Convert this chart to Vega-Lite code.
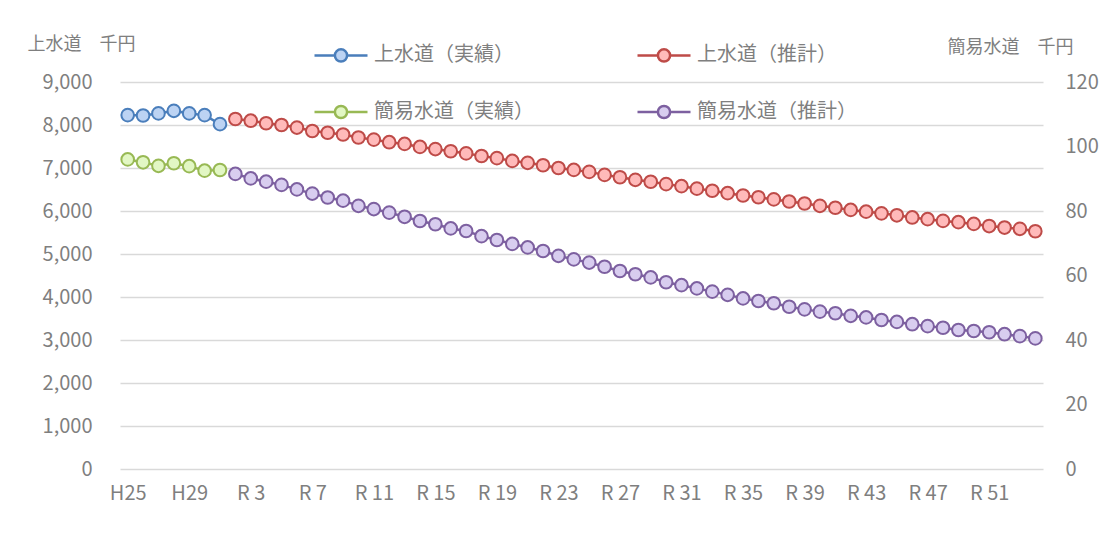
{
  "$schema": "https://vega.github.io/schema/vega-lite/v6.json",
  "width": 923,
  "height": 387,
  "autosize": {"type": "none"},
  "padding": {"left": 120, "top": 82, "right": 61, "bottom": 76},
  "background": "white",
  "config": {
    "view": {"stroke": null},
    "font": "Noto Sans CJK JP",
    "axis": {"labelFont": "Noto Sans CJK JP", "titleFont": "Noto Sans CJK JP"},
    "legend": {"labelFont": "Noto Sans CJK JP"}
  },
  "datasets": {
    "jo": [
      {"y": "H25", "s": "上水道（実績）", "v": 8230},
      {"y": "H26", "s": "上水道（実績）", "v": 8220},
      {"y": "H27", "s": "上水道（実績）", "v": 8270},
      {"y": "H28", "s": "上水道（実績）", "v": 8330},
      {"y": "H29", "s": "上水道（実績）", "v": 8270},
      {"y": "H30", "s": "上水道（実績）", "v": 8230},
      {"y": "R 1", "s": "上水道（実績）", "v": 8020},
      {"y": "R 2", "s": "上水道（推計）", "v": 8140},
      {"y": "R 3", "s": "上水道（推計）", "v": 8100},
      {"y": "R 4", "s": "上水道（推計）", "v": 8040},
      {"y": "R 5", "s": "上水道（推計）", "v": 8000},
      {"y": "R 6", "s": "上水道（推計）", "v": 7940},
      {"y": "R 7", "s": "上水道（推計）", "v": 7860},
      {"y": "R 8", "s": "上水道（推計）", "v": 7820},
      {"y": "R 9", "s": "上水道（推計）", "v": 7780},
      {"y": "R 10", "s": "上水道（推計）", "v": 7710},
      {"y": "R 11", "s": "上水道（推計）", "v": 7660},
      {"y": "R 12", "s": "上水道（推計）", "v": 7600},
      {"y": "R 13", "s": "上水道（推計）", "v": 7560},
      {"y": "R 14", "s": "上水道（推計）", "v": 7490},
      {"y": "R 15", "s": "上水道（推計）", "v": 7440},
      {"y": "R 16", "s": "上水道（推計）", "v": 7390},
      {"y": "R 17", "s": "上水道（推計）", "v": 7340},
      {"y": "R 18", "s": "上水道（推計）", "v": 7280},
      {"y": "R 19", "s": "上水道（推計）", "v": 7230},
      {"y": "R 20", "s": "上水道（推計）", "v": 7165},
      {"y": "R 21", "s": "上水道（推計）", "v": 7120},
      {"y": "R 22", "s": "上水道（推計）", "v": 7065},
      {"y": "R 23", "s": "上水道（推計）", "v": 7000},
      {"y": "R 24", "s": "上水道（推計）", "v": 6955},
      {"y": "R 25", "s": "上水道（推計）", "v": 6910},
      {"y": "R 26", "s": "上水道（推計）", "v": 6840},
      {"y": "R 27", "s": "上水道（推計）", "v": 6785},
      {"y": "R 28", "s": "上水道（推計）", "v": 6725},
      {"y": "R 29", "s": "上水道（推計）", "v": 6680},
      {"y": "R 30", "s": "上水道（推計）", "v": 6625},
      {"y": "R 31", "s": "上水道（推計）", "v": 6577},
      {"y": "R 32", "s": "上水道（推計）", "v": 6520},
      {"y": "R 33", "s": "上水道（推計）", "v": 6470},
      {"y": "R 34", "s": "上水道（推計）", "v": 6415},
      {"y": "R 35", "s": "上水道（推計）", "v": 6360},
      {"y": "R 36", "s": "上水道（推計）", "v": 6320},
      {"y": "R 37", "s": "上水道（推計）", "v": 6270},
      {"y": "R 38", "s": "上水道（推計）", "v": 6220},
      {"y": "R 39", "s": "上水道（推計）", "v": 6175},
      {"y": "R 40", "s": "上水道（推計）", "v": 6120},
      {"y": "R 41", "s": "上水道（推計）", "v": 6075},
      {"y": "R 42", "s": "上水道（推計）", "v": 6025},
      {"y": "R 43", "s": "上水道（推計）", "v": 5985},
      {"y": "R 44", "s": "上水道（推計）", "v": 5945},
      {"y": "R 45", "s": "上水道（推計）", "v": 5900},
      {"y": "R 46", "s": "上水道（推計）", "v": 5850},
      {"y": "R 47", "s": "上水道（推計）", "v": 5810},
      {"y": "R 48", "s": "上水道（推計）", "v": 5770},
      {"y": "R 49", "s": "上水道（推計）", "v": 5740},
      {"y": "R 50", "s": "上水道（推計）", "v": 5700},
      {"y": "R 51", "s": "上水道（推計）", "v": 5650},
      {"y": "R 52", "s": "上水道（推計）", "v": 5615},
      {"y": "R 53", "s": "上水道（推計）", "v": 5585},
      {"y": "R 54", "s": "上水道（推計）", "v": 5530}
    ],
    "kan": [
      {"y": "H25", "s": "簡易水道（実績）", "v": 96.0},
      {"y": "H26", "s": "簡易水道（実績）", "v": 95.1},
      {"y": "H27", "s": "簡易水道（実績）", "v": 94.0},
      {"y": "H28", "s": "簡易水道（実績）", "v": 94.8},
      {"y": "H29", "s": "簡易水道（実績）", "v": 93.9},
      {"y": "H30", "s": "簡易水道（実績）", "v": 92.5},
      {"y": "R 1", "s": "簡易水道（実績）", "v": 92.7},
      {"y": "R 2", "s": "簡易水道（推計）", "v": 91.5},
      {"y": "R 3", "s": "簡易水道（推計）", "v": 90.1},
      {"y": "R 4", "s": "簡易水道（推計）", "v": 89.1},
      {"y": "R 5", "s": "簡易水道（推計）", "v": 88.1},
      {"y": "R 6", "s": "簡易水道（推計）", "v": 86.7},
      {"y": "R 7", "s": "簡易水道（推計）", "v": 85.4},
      {"y": "R 8", "s": "簡易水道（推計）", "v": 84.2},
      {"y": "R 9", "s": "簡易水道（推計）", "v": 83.2},
      {"y": "R 10", "s": "簡易水道（推計）", "v": 81.6},
      {"y": "R 11", "s": "簡易水道（推計）", "v": 80.6},
      {"y": "R 12", "s": "簡易水道（推計）", "v": 79.5},
      {"y": "R 13", "s": "簡易水道（推計）", "v": 78.2},
      {"y": "R 14", "s": "簡易水道（推計）", "v": 76.9},
      {"y": "R 15", "s": "簡易水道（推計）", "v": 75.9},
      {"y": "R 16", "s": "簡易水道（推計）", "v": 74.6},
      {"y": "R 17", "s": "簡易水道（推計）", "v": 73.8},
      {"y": "R 18", "s": "簡易水道（推計）", "v": 72.2},
      {"y": "R 19", "s": "簡易水道（推計）", "v": 71.0},
      {"y": "R 20", "s": "簡易水道（推計）", "v": 69.8},
      {"y": "R 21", "s": "簡易水道（推計）", "v": 68.7},
      {"y": "R 22", "s": "簡易水道（推計）", "v": 67.6},
      {"y": "R 23", "s": "簡易水道（推計）", "v": 66.1},
      {"y": "R 24", "s": "簡易水道（推計）", "v": 65.0},
      {"y": "R 25", "s": "簡易水道（推計）", "v": 64.0},
      {"y": "R 26", "s": "簡易水道（推計）", "v": 62.7},
      {"y": "R 27", "s": "簡易水道（推計）", "v": 61.4},
      {"y": "R 28", "s": "簡易水道（推計）", "v": 60.4},
      {"y": "R 29", "s": "簡易水道（推計）", "v": 59.4},
      {"y": "R 30", "s": "簡易水道（推計）", "v": 57.9},
      {"y": "R 31", "s": "簡易水道（推計）", "v": 57.0},
      {"y": "R 32", "s": "簡易水道（推計）", "v": 56.0},
      {"y": "R 33", "s": "簡易水道（推計）", "v": 55.0},
      {"y": "R 34", "s": "簡易水道（推計）", "v": 54.0},
      {"y": "R 35", "s": "簡易水道（推計）", "v": 52.9},
      {"y": "R 36", "s": "簡易水道（推計）", "v": 52.1},
      {"y": "R 37", "s": "簡易水道（推計）", "v": 51.4},
      {"y": "R 38", "s": "簡易水道（推計）", "v": 50.3},
      {"y": "R 39", "s": "簡易水道（推計）", "v": 49.5},
      {"y": "R 40", "s": "簡易水道（推計）", "v": 48.8},
      {"y": "R 41", "s": "簡易水道（推計）", "v": 48.3},
      {"y": "R 42", "s": "簡易水道（推計）", "v": 47.5},
      {"y": "R 43", "s": "簡易水道（推計）", "v": 47.0},
      {"y": "R 44", "s": "簡易水道（推計）", "v": 46.2},
      {"y": "R 45", "s": "簡易水道（推計）", "v": 45.6},
      {"y": "R 46", "s": "簡易水道（推計）", "v": 44.9},
      {"y": "R 47", "s": "簡易水道（推計）", "v": 44.3},
      {"y": "R 48", "s": "簡易水道（推計）", "v": 43.8},
      {"y": "R 49", "s": "簡易水道（推計）", "v": 43.1},
      {"y": "R 50", "s": "簡易水道（推計）", "v": 42.8},
      {"y": "R 51", "s": "簡易水道（推計）", "v": 42.4},
      {"y": "R 52", "s": "簡易水道（推計）", "v": 41.8},
      {"y": "R 53", "s": "簡易水道（推計）", "v": 41.2},
      {"y": "R 54", "s": "簡易水道（推計）", "v": 40.5}
    ]
  },
  "encoding": {
    "x": {
      "field": "y",
      "type": "ordinal",
      "sort": null,
      "title": null,
      "scale": {
        "type": "point",
        "padding": 0.5,
        "domain": ["H25","H26","H27","H28","H29","H30","R 1","R 2","R 3","R 4","R 5","R 6","R 7","R 8","R 9","R 10","R 11","R 12","R 13","R 14","R 15","R 16","R 17","R 18","R 19","R 20","R 21","R 22","R 23","R 24","R 25","R 26","R 27","R 28","R 29","R 30","R 31","R 32","R 33","R 34","R 35","R 36","R 37","R 38","R 39","R 40","R 41","R 42","R 43","R 44","R 45","R 46","R 47","R 48","R 49","R 50","R 51","R 52","R 53","R 54"]
      },
      "axis": {
        "values": ["H25","H29","R 3","R 7","R 11","R 15","R 19","R 23","R 27","R 31","R 35","R 39","R 43","R 47","R 51"],
        "domain": false,
        "ticks": false,
        "tickSize": 0,
        "grid": false,
        "labelAngle": 0,
        "labelFontSize": 20,
        "labelColor": "#7f7f7f",
        "labelPadding": 14,
        "labelBaseline": "top"
      }
    },
    "stroke": {
      "field": "s",
      "type": "nominal",
      "scale": {
        "domain": ["上水道（実績）", "上水道（推計）", "簡易水道（実績）", "簡易水道（推計）"],
        "range": ["#4a7ebb", "#be4b48", "#98b954", "#7d60a0"]
      },
      "legend": {
        "title": null,
        "orient": "none",
        "legendX": 193,
        "legendY": -55,
        "columns": 2,
        "direction": "horizontal",
        "columnPadding": 98,
        "rowPadding": 17,
        "symbolType": "M-1,0H-0.23M0.23,0H1M0.23,0A0.23,0.23,0,1,1,-0.23,0A0.23,0.23,0,1,1,0.23,0Z",
        "symbolSize": 2809,
        "symbolStrokeWidth": 2.5,
        "labelFontSize": 20,
        "labelColor": "#7f7f7f",
        "labelOffset": 5,
        "labelLimit": 400,
        "encode": {
          "symbols": {
            "update": {
              "fill": {"scale": "fill", "field": "value"},
              "fillOpacity": {"value": 1},
              "opacity": {"value": 1}
            }
          }
        }
      }
    },
    "fill": {
      "field": "s",
      "type": "nominal",
      "scale": {
        "domain": ["上水道（実績）", "上水道（推計）", "簡易水道（実績）", "簡易水道（推計）"],
        "range": ["#bcd3f3", "#ffbaba", "#e2f7c4", "#d8cdef"]
      },
      "legend": null
    }
  },
  "layer": [
    {
      "data": {"name": "jo"},
      "encoding": {
        "y": {
          "field": "v",
          "type": "quantitative",
          "scale": {"domain": [0, 9000], "nice": false, "zero": true},
          "axis": {
            "values": [0, 1000, 2000, 3000, 4000, 5000, 6000, 7000, 8000, 9000],
            "format": ",.0f",
            "domain": false,
            "ticks": false,
            "tickSize": 0,
            "grid": true,
            "gridColor": "#d9d9d9",
            "gridWidth": 1.5,
            "labelFontSize": 20,
            "labelColor": "#7f7f7f",
            "labelPadding": 28,
            "title": "上水道　千円",
            "titleAngle": 0,
            "titleAlign": "left",
            "titleBaseline": "middle",
            "titleX": -93,
            "titleY": -38,
            "titleFontSize": 18,
            "titleFontWeight": "normal",
            "titleColor": "#7f7f7f"
          }
        }
      },
      "layer": [
        {"mark": {"type": "line", "strokeWidth": 2.5}, "encoding": {"fill": {"value": null}}},
        {"mark": {"type": "point", "shape": "circle", "size": 160, "strokeWidth": 2, "opacity": 1, "filled": false}}
      ]
    },
    {
      "data": {"name": "kan"},
      "encoding": {
        "y": {
          "field": "v",
          "type": "quantitative",
          "scale": {"domain": [0, 120], "nice": false, "zero": true},
          "axis": {
            "orient": "right",
            "values": [0, 20, 40, 60, 80, 100, 120],
            "domain": false,
            "ticks": false,
            "tickSize": 0,
            "grid": false,
            "labelFontSize": 20,
            "labelColor": "#7f7f7f",
            "labelPadding": 22,
            "labelAlign": "left",
            "title": "簡易水道　千円",
            "titleAngle": 0,
            "titleAlign": "left",
            "titleBaseline": "middle",
            "titleX": -96,
            "titleY": -35,
            "titleFontSize": 18,
            "titleFontWeight": "normal",
            "titleColor": "#7f7f7f"
          }
        }
      },
      "layer": [
        {"mark": {"type": "line", "strokeWidth": 2.5}, "encoding": {"fill": {"value": null}}},
        {"mark": {"type": "point", "shape": "circle", "size": 160, "strokeWidth": 2, "opacity": 1, "filled": false}}
      ]
    }
  ],
  "resolve": {"scale": {"y": "independent"}}
}
